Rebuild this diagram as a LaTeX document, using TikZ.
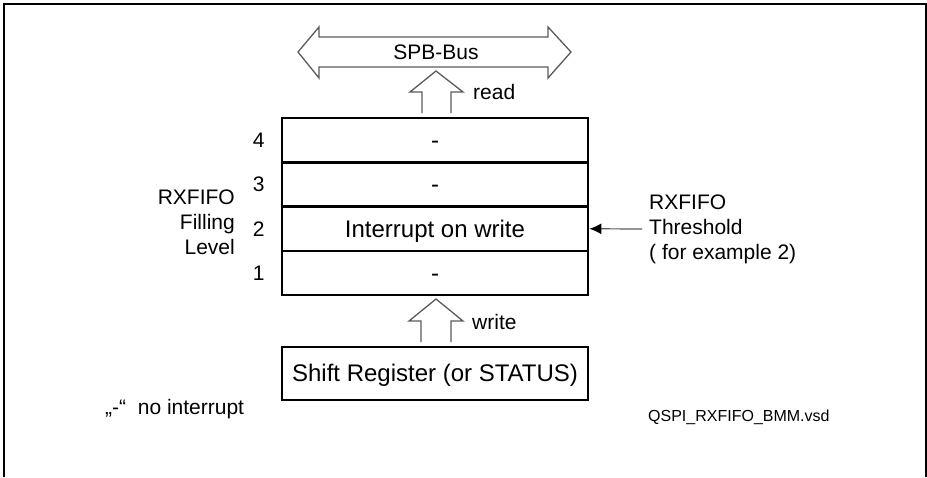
\documentclass[tikz,border=0pt]{standalone}
\usepackage{fontspec}
\setmainfont{Liberation Sans}
\usetikzlibrary{arrows.meta,positioning}
\definecolor{arrowc}{HTML}{5A5A5A}

\tikzset{
  lbl/.style={font=\fontsize{21}{25}\selectfont, inner sep=0pt},
  fifo/.style={draw, line width=2.7pt, minimum width=306pt, minimum height=44.25pt,
    font=\fontsize{24}{28}\selectfont, inner sep=0pt, text height=20.4pt, text depth=3.6pt},
  hollow/.style={draw=arrowc, line width=1.3pt, line join=miter},
}

\begin{document}
\begin{tikzpicture}[x=1pt, y=-1pt]
  \useasboundingbox (0,0) rectangle (927,477);
  \draw[line width=1.5pt] (4,477) -- (4,4) -- (926,4) -- (926,477);
  % bus
  \draw[hollow] (298,52) -- (319,27) -- (319,37) -- (548,37) -- (548,27) -- (571,52)
    -- (548,78) -- (548,67) -- (319,67) -- (319,78) -- cycle;
  \node[lbl] (bus) at (436,52) {SPB-Bus};
  \draw[hollow] (422,113) -- (422,92) -- (410,92) -- (436,71) -- (463,92) -- (451,92) -- (451,113);
  \node[lbl, anchor=west] (rd) at (473,92) {read};
  % fifo rows
  \node[fifo] (r4) at (435,140.25) {-};
  \node[fifo] (r3) at (435,184.5) {-};
  \node[fifo] (r2) at (435,228.75) {Interrupt on write};
  \node[fifo] (r1) at (435,273) {-};
  \node[lbl, left=16pt of r4.west] (n4) {4};
  \node[lbl, left=16pt of r3.west] (n3) {3};
  \node[lbl, left=16pt of r2.west] (n2) {2};
  \node[lbl, left=16pt of r1.west] (n1) {1};
  \node[lbl, align=right, anchor=east] (level) at (235,222) {RXFIFO\\Filling\\Level};
  \node[lbl, align=left, anchor=west] (thr) at (649,229) {RXFIFO\\Threshold\\( for example 2)};
  \draw[arrowc, line width=1.2pt, -{Latex[length=12pt, width=11pt, color=black]}]
    ([xshift=-7pt]thr.west) -- (r2.east);
  % shift register
  \draw[hollow] (421,342) -- (421,321) -- (409,321) -- (436,299) -- (463,321) -- (451,321) -- (451,342);
  \node[lbl, anchor=west] (wr) at (472,322) {write};
  \node[fifo, minimum height=53pt] (shreg) at (435,373.5) {Shift Register (or STATUS)};
  \node[lbl, anchor=west] (nointr) at (105,409) {„-“\ \ no interrupt};
  \node[font=\fontsize{16}{19}\selectfont, inner sep=0pt, anchor=west] (fname) at (648,417)
    {QSPI\_RXFIFO\_BMM.vsd};
\end{tikzpicture}
\end{document}
